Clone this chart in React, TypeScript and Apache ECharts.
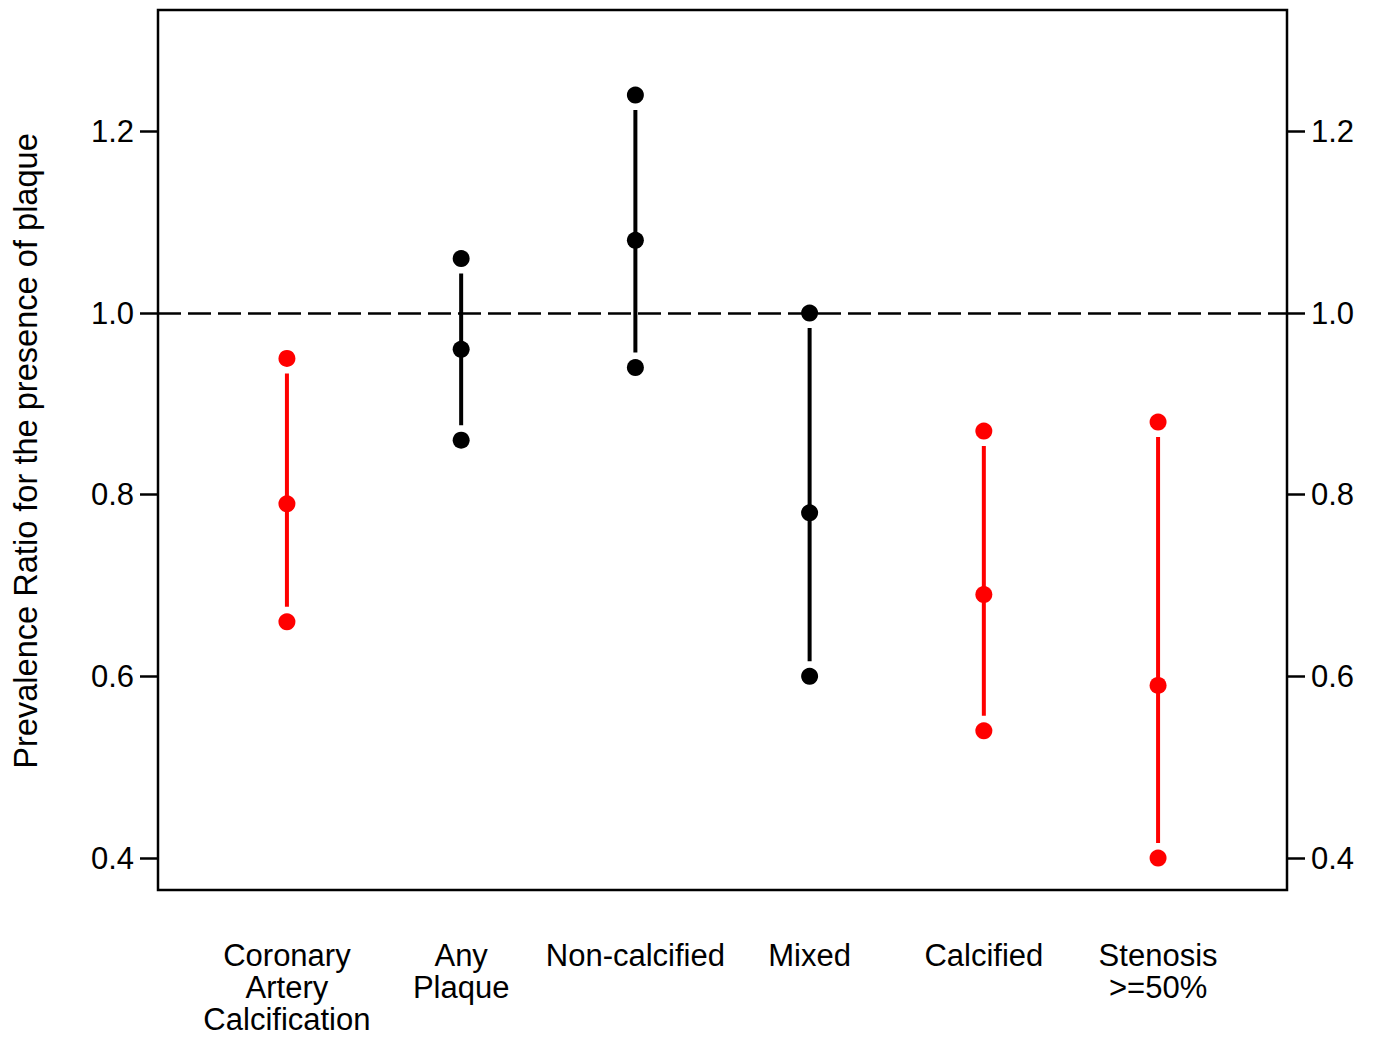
import React, { useEffect, useRef } from "react";
import * as echarts from "echarts";

const categories = [
  "Coronary\nArtery\nCalcification",
  "Any\nPlaque",
  "Non-calcified",
  "Mixed",
  "Calcified",
  "Stenosis\n>=50%",
];
const estimates = [0.79, 0.96, 1.08, 0.78, 0.69, 0.59];
const lowerCI = [0.66, 0.86, 0.94, 0.6, 0.54, 0.4];
const upperCI = [0.95, 1.06, 1.24, 1.0, 0.87, 0.88];
const significant = [true, false, false, false, true, true];
const yTicks = [0.4, 0.6, 0.8, 1.0, 1.2];
const referenceValue = 1.0;

const RED = "#ff0000";
const BLACK = "#000000";
const FONT = "Liberation Sans, Arial, Helvetica, sans-serif";

export default function App() {
  const ref = useRef<HTMLDivElement>(null);

  useEffect(() => {
    if (!ref.current) return;
    const chart = echarts.init(ref.current, undefined, { renderer: "svg" });

    const positions = categories.map((_, i) => i + 1);
    const colorOf = (i: number) => (significant[i] ? RED : BLACK);

    const pointData: any[] = [];
    positions.forEach((x, i) => {
      [lowerCI[i], estimates[i], upperCI[i]].forEach((v) => {
        pointData.push({ value: [x, v], itemStyle: { color: colorOf(i), opacity: 1 } });
      });
    });
    const segData = positions.map((x, i) => [x, lowerCI[i], upperCI[i], i]);

    const gap = 15;

    const yAxisCommon = {
      type: "value",
      min: 0.3648,
      max: 1.3336,
      splitLine: { show: false },
      axisLine: { show: false },
      axisTick: {
        show: true,
        length: 18,
        customValues: yTicks,
        lineStyle: { color: BLACK, width: 2.5 },
      },
      axisLabel: {
        show: true,
        customValues: yTicks,
        formatter: (v: number) => v.toFixed(1),
        color: BLACK,
        fontSize: 31,
        fontFamily: FONT,
        margin: 24,
      },
    };

    chart.setOption({
      animation: false,
      backgroundColor: "#ffffff",
      grid: {
        left: 158,
        right: 88,
        top: 10,
        bottom: 148,
        show: true,
        borderColor: BLACK,
        borderWidth: 2.5,
        backgroundColor: "transparent",
      },
      xAxis: {
        type: "value",
        min: 0.26,
        max: 6.74,
        splitLine: { show: false },
        axisLine: { show: false },
        axisTick: { show: false },
        axisLabel: {
          show: true,
          customValues: positions,
          formatter: (v: number) => categories[Math.round(v) - 1] ?? "",
          color: BLACK,
          fontSize: 31,
          lineHeight: 32,
          fontFamily: FONT,
          align: "center",
          verticalAlign: "top",
          margin: 49,
        },
      },
      yAxis: [
        { ...yAxisCommon, position: "left" },
        { ...yAxisCommon, position: "right" },
      ],
      graphic: [
        {
          type: "text",
          x: 25,
          y: 451,
          rotation: Math.PI / 2,
          style: {
            text: "Prevalence Ratio for the presence of plaque",
            fontSize: 32.6,
            fontFamily: FONT,
            fill: BLACK,
            align: "center",
            verticalAlign: "middle",
          },
        },
      ],
      series: [
        {
          type: "custom",
          xAxisIndex: 0,
          yAxisIndex: 0,
          z: 3,
          renderItem: (params: any, api: any) => {
            const x = api.value(0);
            const lo = api.value(1);
            const hi = api.value(2);
            const idx = api.value(3);
            const p1 = api.coord([x, hi]);
            const p2 = api.coord([x, lo]);
            return {
              type: "line",
              shape: { x1: p1[0], y1: p1[1] + gap, x2: p2[0], y2: p2[1] - gap },
              style: { stroke: colorOf(idx), lineWidth: 4 },
            };
          },
          data: segData,
          markLine: {
            silent: true,
            symbol: "none",
            label: { show: false },
            lineStyle: { color: BLACK, width: 2.5, type: [23, 7], opacity: 1 },
            data: [{ yAxis: referenceValue }],
          },
        },
        {
          type: "scatter",
          xAxisIndex: 0,
          yAxisIndex: 0,
          z: 4,
          symbol: "circle",
          symbolSize: 17,
          itemStyle: { opacity: 1 },
          data: pointData,
        },
      ],
    });

    return () => chart.dispose();
  }, []);

  return (
    <div
      ref={ref}
      style={{ position: "fixed", left: 0, top: 0, width: 1375, height: 1038, background: "#fff" }}
    />
  );
}
